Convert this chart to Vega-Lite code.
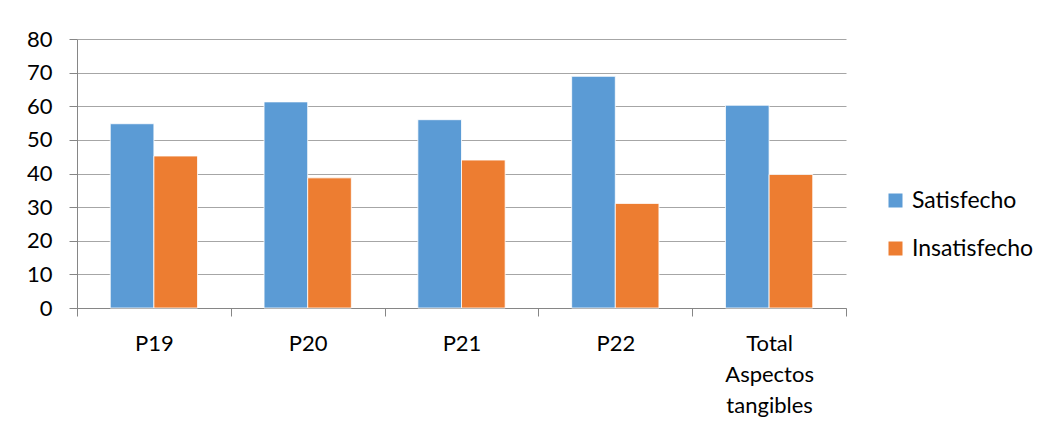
{
  "$schema": "https://vega.github.io/schema/vega-lite/v6.json",
  "autosize": "none",
  "padding": {"left": 77, "top": 39, "right": 208, "bottom": 128},
  "width": 769,
  "height": 269,
  "background": "white",
  "data": {
    "values": [
      {"pregunta": "P19", "nivel": "Satisfecho", "porcentaje": 54.8},
      {"pregunta": "P19", "nivel": "Insatisfecho", "porcentaje": 45.2},
      {"pregunta": "P20", "nivel": "Satisfecho", "porcentaje": 61.3},
      {"pregunta": "P20", "nivel": "Insatisfecho", "porcentaje": 38.7},
      {"pregunta": "P21", "nivel": "Satisfecho", "porcentaje": 56.0},
      {"pregunta": "P21", "nivel": "Insatisfecho", "porcentaje": 44.0},
      {"pregunta": "P22", "nivel": "Satisfecho", "porcentaje": 68.9},
      {"pregunta": "P22", "nivel": "Insatisfecho", "porcentaje": 31.1},
      {"pregunta": "Total Aspectos tangibles", "nivel": "Satisfecho", "porcentaje": 60.3},
      {"pregunta": "Total Aspectos tangibles", "nivel": "Insatisfecho", "porcentaje": 39.7}
    ]
  },
  "mark": {"type": "bar", "stroke": "white", "strokeWidth": 0.8},
  "encoding": {
    "x": {
      "field": "pregunta",
      "type": "nominal",
      "sort": ["P19", "P20", "P21", "P22", "Total Aspectos tangibles"],
      "scale": {"paddingInner": 0, "paddingOuter": 0},
      "axis": {
        "title": null,
        "labelAngle": 0,
        "labelFont": "Lato",
        "labelFontSize": 22,
        "labelColor": "#000000",
        "labelBaseline": "top",
        "labelLineHeight": 31,
        "labelPadding": 17,
        "labelExpr": "datum.label == 'Total Aspectos tangibles' ? ['Total', 'Aspectos', 'tangibles'] : datum.label",
        "tickBand": "extent",
        "tickSize": 8,
        "tickColor": "#868686",
        "domainColor": "#868686",
        "grid": false
      }
    },
    "xOffset": {
      "field": "nivel",
      "type": "nominal",
      "sort": ["Satisfecho", "Insatisfecho"],
      "scale": {"paddingInner": 0, "paddingOuter": 0.762}
    },
    "y": {
      "field": "porcentaje",
      "type": "quantitative",
      "scale": {"domain": [0, 80], "nice": false},
      "axis": {
        "title": null,
        "values": [0, 10, 20, 30, 40, 50, 60, 70, 80],
        "labelFont": "Lato",
        "labelFontSize": 22,
        "labelColor": "#000000",
        "labelPadding": 17,
        "tickSize": 8,
        "tickColor": "#868686",
        "domainColor": "#868686",
        "gridColor": "#A6A6A6",
        "gridWidth": 1
      }
    },
    "color": {
      "field": "nivel",
      "type": "nominal",
      "sort": ["Satisfecho", "Insatisfecho"],
      "scale": {"domain": ["Satisfecho", "Insatisfecho"], "range": ["#5B9BD5", "#ED7D31"]},
      "legend": {
        "title": null,
        "orient": "none",
        "legendX": 807,
        "legendY": 150,
        "symbolType": "square",
        "symbolSize": 196,
        "symbolStrokeWidth": 0,
        "labelFont": "Lato",
        "labelFontSize": 23,
        "labelColor": "#000000",
        "labelOffset": 5,
        "rowPadding": 24
      }
    }
  },
  "config": {
    "view": {"stroke": null}
  }
}
